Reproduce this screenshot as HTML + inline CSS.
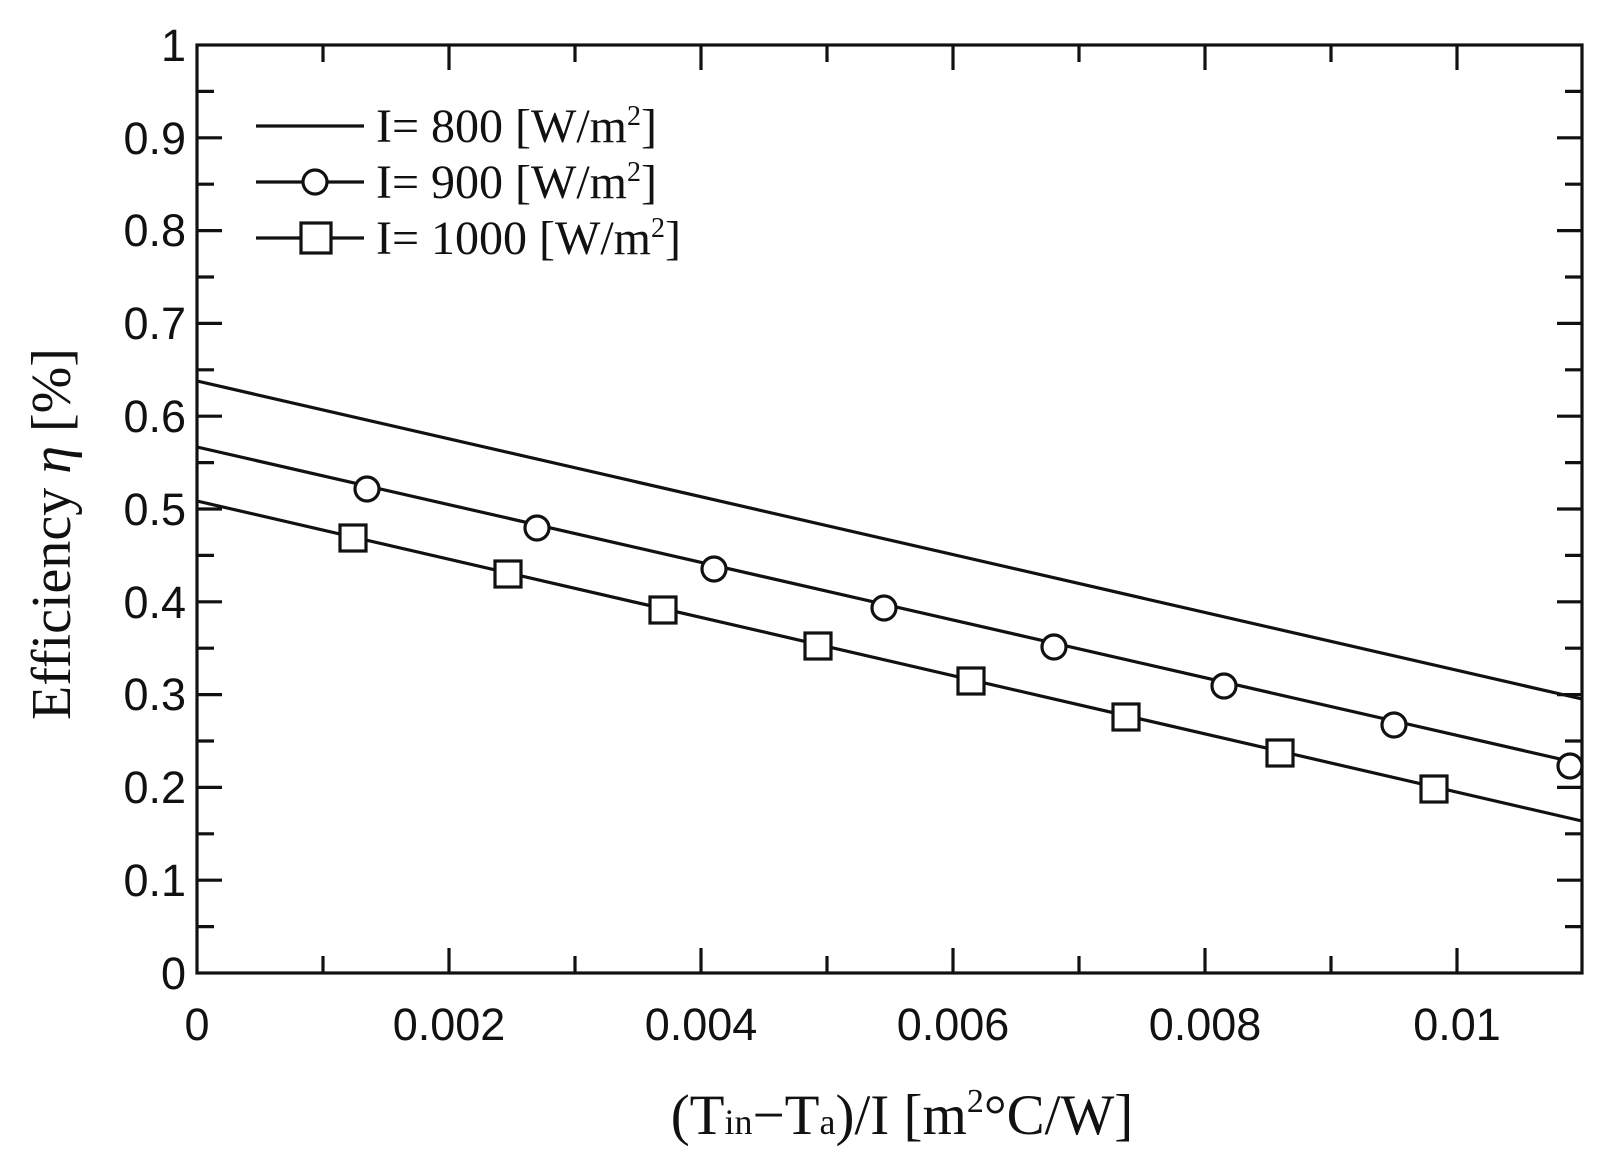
<!DOCTYPE html>
<html><head><meta charset="utf-8"><style>
html,body{margin:0;padding:0;background:#fff;}
svg{display:block;}
.t{font-family:"Liberation Sans",sans-serif;font-size:45px;fill:#111;}
.s{font-family:"Liberation Serif",serif;fill:#111;}
</style></head><body>
<svg width="1617" height="1164" viewBox="0 0 1617 1164" xmlns="http://www.w3.org/2000/svg">
<g stroke="#111" stroke-width="3.2" fill="none">
<rect x="197" y="45" width="1385" height="928"/>
<path d="M323,973v-17M449,973v-25M575,973v-17M701,973v-25M827,973v-17M953,973v-25M1079,973v-17M1205,973v-25M1331,973v-17M1457,973v-25
M323,45v17M449,45v25M575,45v17M701,45v25M827,45v17M953,45v25M1079,45v17M1205,45v25M1331,45v17M1457,45v25"/>
<path d="M197,926.6h17M197,880.2h25M197,833.8h17M197,787.4h25M197,741h17M197,694.6h25M197,648.2h17M197,601.8h25M197,555.4h17M197,509h25M197,462.6h17M197,416.2h25M197,369.8h17M197,323.4h25M197,277h17M197,230.6h25M197,184.2h17M197,137.8h25M197,91.4h17
M1582,926.6h-17M1582,880.2h-25M1582,833.8h-17M1582,787.4h-25M1582,741h-17M1582,694.6h-25M1582,648.2h-17M1582,601.8h-25M1582,555.4h-17M1582,509h-25M1582,462.6h-17M1582,416.2h-25M1582,369.8h-17M1582,323.4h-25M1582,277h-17M1582,230.6h-25M1582,184.2h-17M1582,137.8h-25M1582,91.4h-17"/>
<line x1="197" y1="381" x2="1582" y2="699"/>
<line x1="197" y1="447" x2="1582" y2="764"/>
<line x1="197" y1="501" x2="1582" y2="821"/>
</g>
<g stroke="#111" stroke-width="3.2" fill="#fff">
<circle cx="367" cy="489" r="12"/>
<circle cx="537" cy="528" r="12"/>
<circle cx="714" cy="569" r="12"/>
<circle cx="884" cy="608" r="12"/>
<circle cx="1054" cy="647" r="12"/>
<circle cx="1224" cy="686" r="12"/>
<circle cx="1394" cy="725" r="12"/>
<circle cx="1570" cy="766" r="12"/>
<rect x="340" y="525" width="26" height="26"/>
<rect x="495" y="561" width="26" height="26"/>
<rect x="650" y="597" width="26" height="26"/>
<rect x="805" y="633" width="26" height="26"/>
<rect x="958" y="668" width="26" height="26"/>
<rect x="1113" y="704" width="26" height="26"/>
<rect x="1267" y="740" width="26" height="26"/>
<rect x="1421" y="776" width="26" height="26"/>
<line x1="256" y1="126" x2="364" y2="126"/>
<line x1="256" y1="182" x2="364" y2="182"/>
<circle cx="315" cy="182" r="12"/>
<line x1="256" y1="238" x2="364" y2="238"/>
<rect x="301" y="223" width="30" height="30"/>
</g>
<g class="s" font-size="48">
<text x="376" y="142">I= 800 [W/m<tspan font-size="28" dy="-17">2</tspan><tspan dy="17">]</tspan></text>
<text x="376" y="198">I= 900 [W/m<tspan font-size="28" dy="-17">2</tspan><tspan dy="17">]</tspan></text>
<text x="376" y="254">I= 1000 [W/m<tspan font-size="28" dy="-17">2</tspan><tspan dy="17">]</tspan></text>
</g>
<g class="t" text-anchor="end">
<text x="186" y="989">0</text>
<text x="186" y="896">0.1</text>
<text x="186" y="803">0.2</text>
<text x="186" y="710">0.3</text>
<text x="186" y="618">0.4</text>
<text x="186" y="525">0.5</text>
<text x="186" y="432">0.6</text>
<text x="186" y="339">0.7</text>
<text x="186" y="246">0.8</text>
<text x="186" y="154">0.9</text>
<text x="186" y="61">1</text>
</g>
<g class="t" text-anchor="middle">
<text x="197" y="1040">0</text>
<text x="449" y="1040">0.002</text>
<text x="701" y="1040">0.004</text>
<text x="953" y="1040">0.006</text>
<text x="1205" y="1040">0.008</text>
<text x="1457" y="1040">0.01</text>
</g>
<text class="s" font-size="56" text-anchor="middle" transform="translate(70,534) rotate(-90)">Efficiency <tspan font-style="italic">η</tspan> [%]</text>
<text class="s" font-size="57" text-anchor="middle" x="902" y="1134">(T<tspan font-size="36">in</tspan>−T<tspan font-size="36">a</tspan>)/I [m<tspan font-size="34" dy="-22">2</tspan><tspan dy="22">°C/W]</tspan></text>
</svg>
</body></html>
